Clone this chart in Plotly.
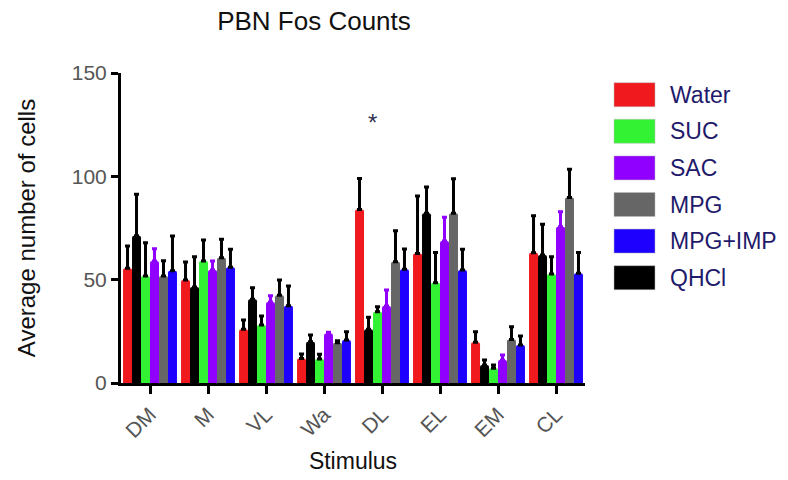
import plotly.graph_objects as go

categories = ["DM", "M", "VL", "Wa", "DL", "EL", "EM", "CL"]

# Draw order within each group (left to right)
series_names = ["Water", "QHCl", "SUC", "SAC", "MPG", "MPG+IMP"]
series_colors = ["#f01a1e", "#000000", "#33f233", "#9000ff", "#666666", "#1e00ff"]
series_err_colors = ["#000000", "#000000", "#000000", "#9000ff", "#000000", "#000000"]

water = [55.5, 49.8, 26.0, 11.9, 84.0, 62.7, 19.7, 63.0]
water_top = [66.3, 58.5, 30.5, 14.0, 99.0, 90.5, 24.8, 80.9]
qhcl = [71.3, 46.4, 40.5, 20.0, 26.0, 82.1, 8.7, 61.9]
qhcl_top = [91.3, 61.1, 46.1, 23.2, 31.8, 94.8, 11.1, 76.8]
suc = [51.8, 59.0, 28.1, 11.6, 34.5, 48.5, 7.1, 52.7]
suc_top = [67.9, 69.2, 32.4, 13.9, 36.9, 63.2, 8.7, 61.1]
sac = [59.0, 54.7, 39.2, 24.0, 37.3, 68.7, 11.1, 75.6]
sac_top = [65.0, 59.0, 42.2, 24.5, 45.0, 80.2, 13.5, 82.9]
mpg = [51.8, 60.6, 42.4, 19.5, 58.7, 82.1, 21.1, 89.8]
mpg_top = [59.2, 69.5, 49.8, 20.5, 73.7, 98.8, 27.2, 103.4]
mpgimp = [54.3, 56.0, 37.4, 20.8, 55.0, 54.7, 18.4, 53.1]
mpgimp_top = [71.1, 64.7, 46.9, 24.8, 64.8, 64.7, 22.7, 63.2]

series_values = [water, qhcl, suc, sac, mpg, mpgimp]
series_tops = [water_top, qhcl_top, suc_top, sac_top, mpg_top, mpgimp_top]

# Legend order
legend_order = ["Water", "SUC", "SAC", "MPG", "MPG+IMP", "QHCl"]

y_ticks = [0, 50, 100, 150]
sig_category = "DL"
sig_value = 126

FONT = "Liberation Sans, Arial, Helvetica, sans-serif"

fig = go.Figure()
for name, color, ecolor, vals, tops in zip(series_names, series_colors, series_err_colors,
                                           series_values, series_tops):
    fig.add_trace(go.Bar(
        x=categories, y=vals, name=name,
        marker=dict(color=color, line=dict(width=0)),
        error_y=dict(type="data", symmetric=False,
                     array=[t - v for t, v in zip(tops, vals)],
                     arrayminus=[0] * len(vals),
                     color=ecolor, thickness=3, width=2.5),
        showlegend=False,
    ))

# Custom legend (large swatches)
L, R, T, B = 121, 203, 73, 97
W, H = 788, 480
pw, ph = W - L - R, H - T - B
def px2x(px):
    return (px - L) / pw
def py2y(py):
    return (H - B - py) / ph

row0, step = 94.7, 36.6
for i, nm in enumerate(legend_order):
    col = series_colors[series_names.index(nm)]
    yc = row0 + i * step
    fig.add_shape(type="rect", xref="paper", yref="paper",
                  x0=px2x(614), x1=px2x(655), y0=py2y(yc + 12), y1=py2y(yc - 12),
                  fillcolor=col, line=dict(color="#bbbbbb", width=0.5))
    fig.add_annotation(xref="paper", yref="paper", x=px2x(668), y=py2y(yc),
                       text=nm, showarrow=False, xanchor="left", yanchor="middle",
                       font=dict(family=FONT, size=23, color="#1f1a6b"))

fig.add_annotation(x=sig_category, y=sig_value, text="*", showarrow=False,
                   xshift=-10, yanchor="middle",
                   font=dict(family=FONT, size=24, color="#333355"))

fig.update_layout(
    width=W, height=H,
    margin=dict(l=L, r=R, t=T, b=B, autoexpand=False),
    paper_bgcolor="white", plot_bgcolor="white",
    barmode="group", bargap=0.07, bargroupgap=0,
    barcornerradius=2,
    title=dict(text="PBN Fos Counts", x=314 / W, xanchor="center",
               y=1 - 12 / H, yanchor="top", xref="container", yref="container",
               font=dict(family=FONT, size=26, color="#111111")),
    font=dict(family=FONT),
)
fig.update_xaxes(
    type="category", range=[-0.5, 7.5], automargin=False,
    showline=True, linecolor="black", linewidth=3,
    ticks="outside", ticklen=8, tickwidth=3, tickcolor="black",
    tickangle=-45, tickfont=dict(family=FONT, size=21, color="#555555"),
    showgrid=False, zeroline=False,
    title=dict(text="Stimulus", standoff=12,
               font=dict(family=FONT, size=23, color="#111111")),
)
fig.update_yaxes(
    range=[0, 150], tickvals=y_ticks, automargin=False,
    showline=True, linecolor="black", linewidth=3,
    ticks="outside", ticklen=7, tickwidth=3, tickcolor="black",
    tickfont=dict(family=FONT, size=21, color="#555555"),
    showgrid=False, zeroline=False,
    title=dict(text="Average number of cells", standoff=30,
               font=dict(family=FONT, size=24, color="#111111")),
)

fig.write_html("out.html", config={"displayModeBar": False},
               post_script="document.body.style.margin='0';document.body.style.overflow='hidden';")
